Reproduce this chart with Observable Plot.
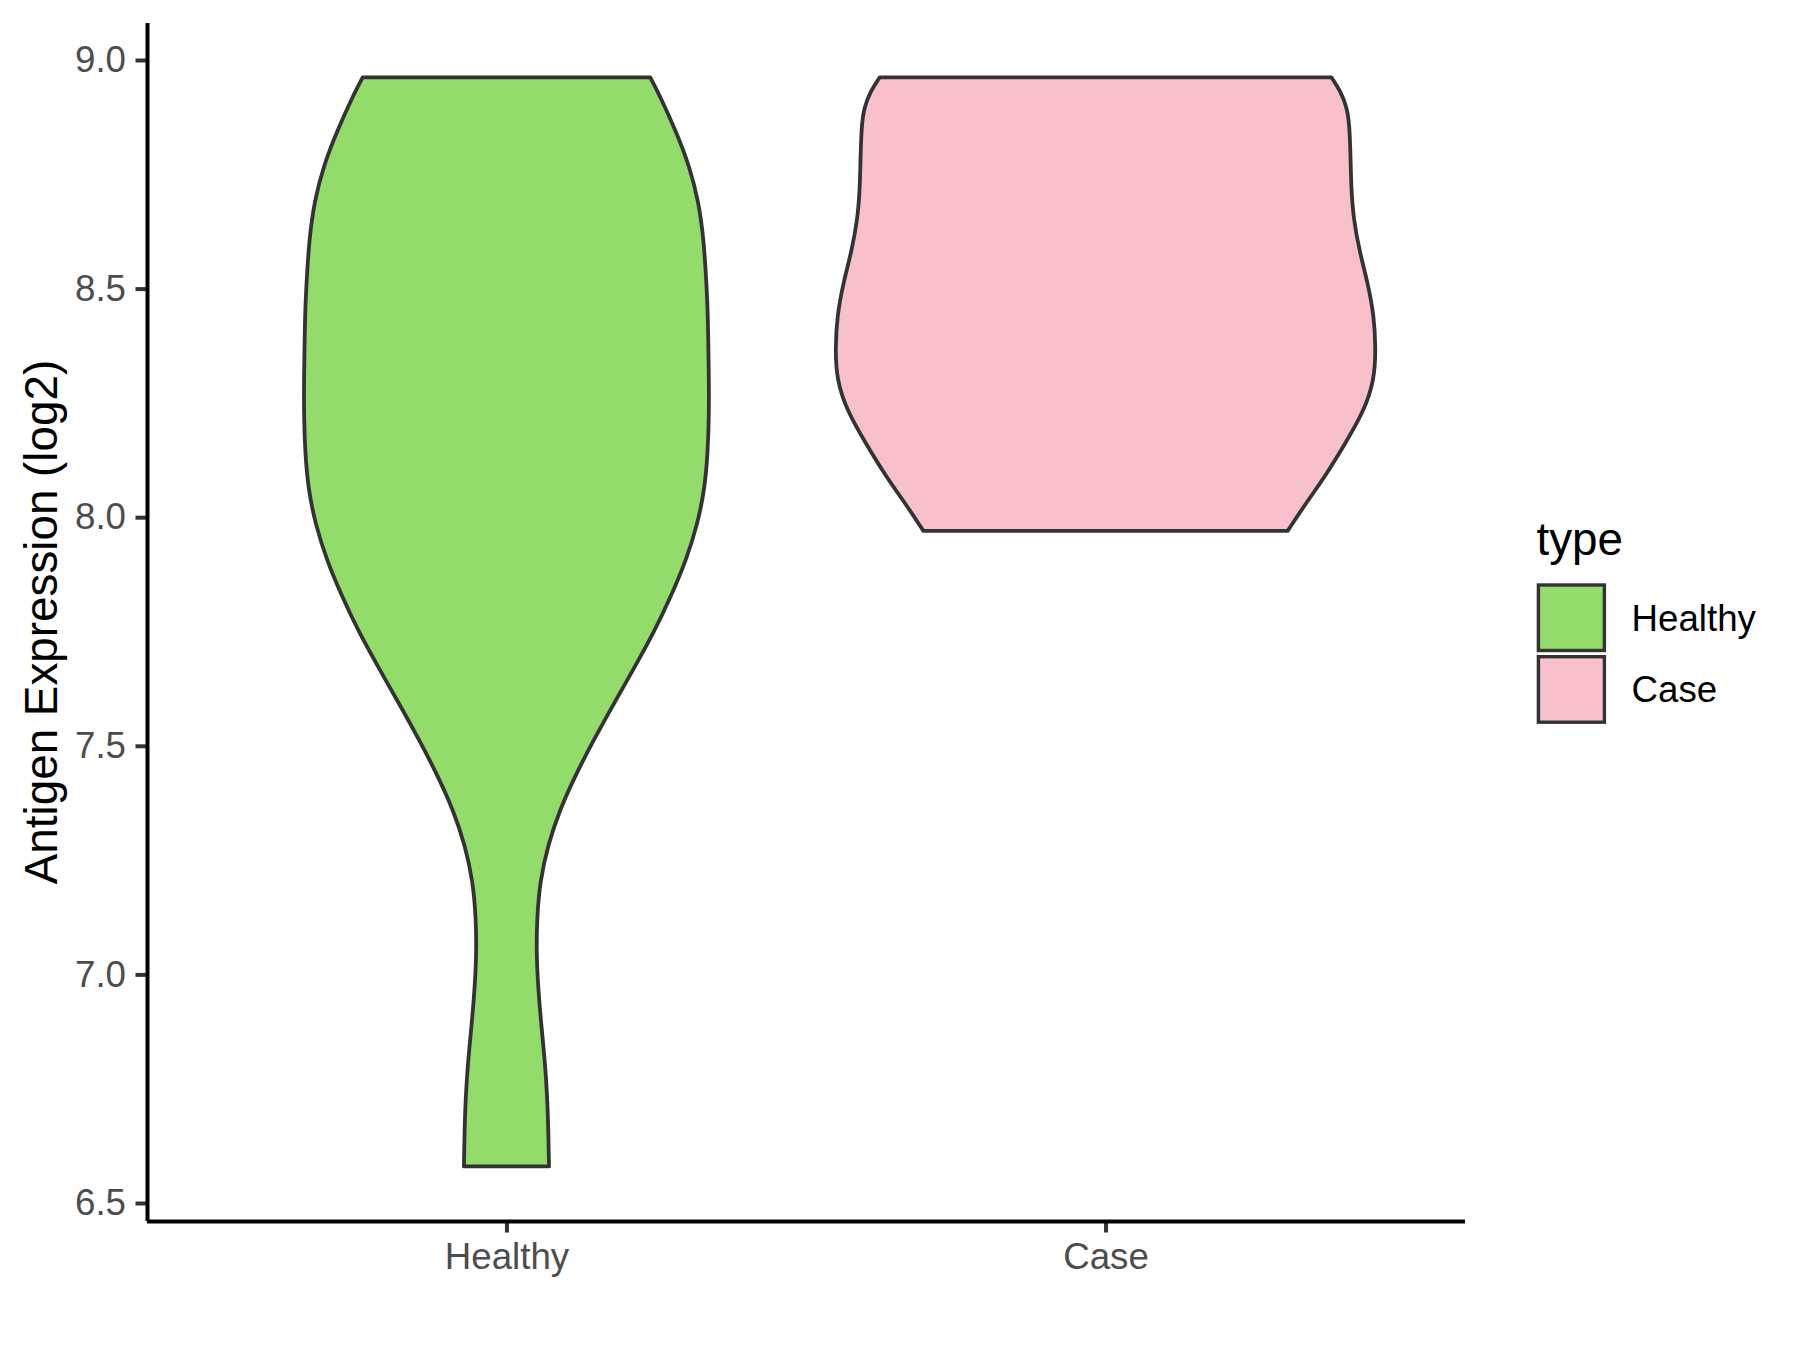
<!DOCTYPE html>
<html>
<head>
<meta charset="utf-8">
<script src="https://cdn.jsdelivr.net/npm/d3@7"></script>
<script src="https://cdn.jsdelivr.net/npm/@observablehq/plot@0.6"></script>
<style>
  html, body { margin: 0; padding: 0; background: white; }
  #chart svg { display: block; }
</style>
</head>
<body>
<div id="chart"></div>
<script>
// ---- data ----
const categories = ["Healthy", "Case"];
const categoryFill = ["#93db6b", "#f7c0cb"];
const yTicks = [6.5, 7.0, 7.5, 8.0, 8.5, 9.0];
const yLabel = "Antigen Expression (log2)";
const legendTitle = "type";

// violin outlines: expression value and half-width (in category units)
const healthyValue = [6.580, 6.657, 6.735, 6.813, 6.891, 6.969, 7.047, 7.125, 7.203, 7.282, 7.360, 7.438, 7.516, 7.594, 7.672, 7.750, 7.828, 7.906, 7.985, 8.063, 8.141, 8.219, 8.297, 8.375, 8.453, 8.531, 8.609, 8.688, 8.766, 8.844, 8.922, 8.962];
const healthyHalfWidth = [0.071, 0.070, 0.068, 0.064, 0.058, 0.053, 0.050, 0.051, 0.056, 0.069, 0.089, 0.116, 0.147, 0.180, 0.214, 0.247, 0.275, 0.300, 0.319, 0.331, 0.336, 0.338, 0.338, 0.337, 0.336, 0.333, 0.329, 0.321, 0.306, 0.283, 0.256, 0.240];

const caseValue = [7.970, 8.022, 8.092, 8.161, 8.231, 8.301, 8.371, 8.441, 8.511, 8.581, 8.651, 8.720, 8.790, 8.860, 8.895, 8.930, 8.962];
const caseHalfWidth = [0.304, 0.330, 0.368, 0.400, 0.431, 0.449, 0.451, 0.448, 0.438, 0.424, 0.414, 0.410, 0.409, 0.407, 0.403, 0.393, 0.377];

// ---- table built from the arrays ----
const rows = [
  ...healthyValue.map((v, i) => ({type: "Healthy", pos: 1, v, hw: healthyHalfWidth[i]})),
  ...caseValue.map((v, i) => ({type: "Case", pos: 2, v, hw: caseHalfWidth[i]}))
];

const yMin = 6.4606, yMax = 9.0809;
const fontFamily = "'Liberation Sans', Arial, Helvetica, sans-serif";

const chart = Plot.plot({
  width: 1800,
  height: 1350,
  marginLeft: 147,
  marginRight: 335,
  marginTop: 23,
  marginBottom: 129,
  style: {fontFamily, background: "white", overflow: "visible"},
  x: {domain: [0.4, 2.6]},
  y: {domain: [yMin, yMax]},
  color: {domain: categories, range: categoryFill},
  marks: [
    Plot.areaX(rows, {
      y: "v",
      x1: d => d.pos - d.hw,
      x2: d => d.pos + d.hw,
      z: "type",
      fill: "type",
      stroke: "#333333",
      strokeWidth: 3.8,
      strokeLinejoin: "round",
      curve: "basis"
    }),
    Plot.axisY({
      ticks: yTicks,
      tickFormat: d3.format(".1f"),
      tickSize: 11.5,
      tickPadding: 10,
      fontSize: 36.7,
      stroke: "#333333",
      strokeWidth: 4,
      fill: "#4d4d4d",
      label: null
    }),
    Plot.axisX({
      ticks: [1, 2],
      tickFormat: d => categories[d - 1],
      tickSize: 11.5,
      tickPadding: 9.5,
      fontSize: 36.7,
      stroke: "#333333",
      strokeWidth: 4,
      fill: "#4d4d4d",
      label: null
    }),
    Plot.ruleX([0.4], {stroke: "black", strokeWidth: 4}),
    Plot.ruleY([yMin], {stroke: "black", strokeWidth: 4})
  ]
});

document.getElementById("chart").appendChild(chart);

// ---- axis title and legend (layout) ----
const svg = d3.select(chart);

svg.append("text")
  .attr("transform", "translate(56.5,622) rotate(-90)")
  .attr("text-anchor", "middle")
  .attr("font-family", fontFamily)
  .attr("font-size", 45.8)
  .attr("fill", "black")
  .text(yLabel);

const lg = svg.append("g")
  .attr("font-family", fontFamily)
  .attr("text-anchor", "start");
lg.append("text")
  .attr("x", 1536.5).attr("y", 555)
  .attr("text-anchor", "start")
  .attr("font-size", 45.8).attr("fill", "black")
  .text(legendTitle);

categories.forEach((c, i) => {
  const top = 585 + i * 71.7;
  lg.append("rect")
    .attr("x", 1538.4).attr("y", top)
    .attr("width", 66).attr("height", 65.5)
    .attr("fill", categoryFill[i])
    .attr("stroke", "#333333").attr("stroke-width", 3.4);
  lg.append("text")
    .attr("x", 1631.5).attr("y", top + 45.5)
    .attr("text-anchor", "start")
    .attr("font-size", 36.7).attr("fill", "black")
    .text(c);
});
</script>
</body>
</html>
